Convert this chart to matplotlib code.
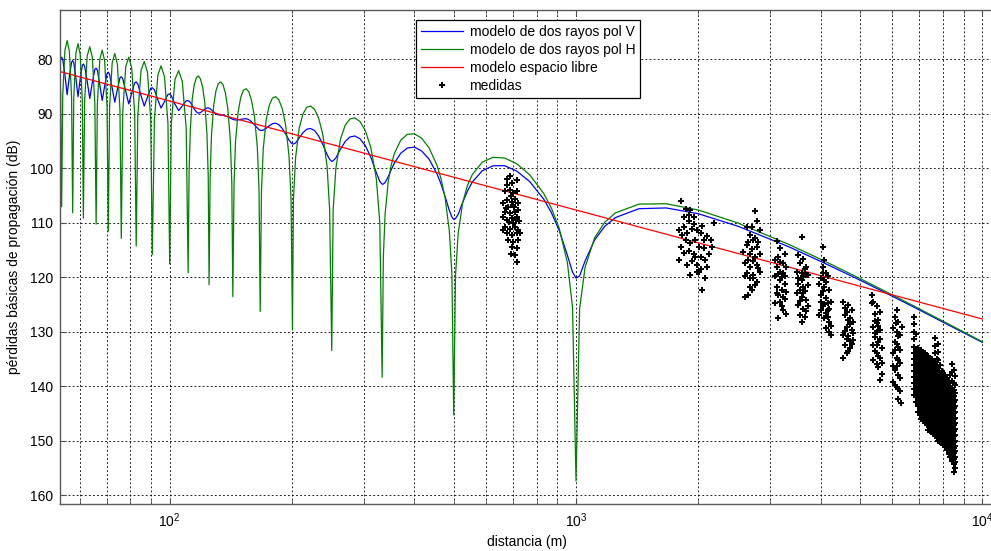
import numpy as np
import matplotlib
matplotlib.use('Agg')
from matplotlib import pyplot as plt
from matplotlib.ticker import FixedLocator, NullFormatter

plt.rcParams['font.family'] = ['Liberation Sans', 'DejaVu Sans']
plt.rcParams['mathtext.default'] = 'regular'
plt.rcParams['font.size'] = 10

# %% model curves: distance (m), loss pol V, loss pol H (dB)
dist = [53.7, 53.89, 54.2, 54.54, 55.23, 55.92, 56.63, 57.34, 57.7,
        58.05, 58.76, 59.47, 60.20, 60.93, 61.3,
        61.75, 62.65, 63.56, 64.49, 65.42, 65.9,
        66.36, 67.28, 68.21, 69.16, 70.11, 70.6,
        71.12, 72.18, 73.25, 74.34, 75.44, 76.0,
        76.65, 77.95, 79.28, 80.63, 82.00, 82.7,
        83.46, 84.99, 86.56, 88.15, 89.78, 90.6,
        91.7, 93.5, 95.2, 97.1, 99.0, 100.0,
        100.9, 103.0, 105.2, 107.4, 109.8, 111.0,
        111.6, 112.4, 113.6, 114.9, 116.3, 117.6, 119.0, 120.5, 122.0, 123.5, 124.4, 125.0,
        125.75, 126.71, 128.33, 130.0, 131.71, 133.47, 135.27, 137.12, 139.03, 140.99, 142.19, 143.0,
        144.0, 145.2, 147.4, 149.6, 151.8, 154.2, 156.6, 158.9, 161.6, 164.3, 165.9, 167.0,
        168.2, 169.9, 172.8, 175.9, 179.0, 182.3, 185.6, 189.2, 192.8, 196.6, 198.9, 200.5,
        201.6, 204.1, 208.3, 212.8, 217.4, 222.2, 227.3, 232.6, 238.1, 243.9, 247.5, 250.5,
        252.5, 256.4, 263.2, 270.3, 277.8, 285.7, 294.1, 303.0, 312.5, 322.6, 328.9, 333.3,
        335.6, 339.0, 344.8, 350.9, 357.1, 370.4, 384.6, 400.0, 416.7, 434.8, 454.5, 465.1,
        476.2, 487.8, 495.0, 500.0,
        505.1, 512.8, 526.3, 540.5, 555.6, 588.2, 625.0, 666.7, 714.3, 769.2, 833.3, 869.6,
        909.1, 952.4, 980.4, 1000.0,
        1020.4, 1052.6, 1111.1, 1176.5, 1250.0, 1428.6, 1666.7, 2000.0, 2500.0, 3333.3,
        4000.0, 5000.0, 5714.0, 6666.7, 8333.0, 10000.0]

loss_v = [80.43, 79.93, 79.65, 80.05, 82.96, 86.55, 83.18, 80.55, 80.28,
          80.69, 83.51, 86.91, 83.72, 81.17, 80.91,
          81.31, 84.07, 87.24, 84.32, 81.90, 81.67,
          82.04, 84.70, 87.60, 84.94, 82.65, 82.40,
          82.80, 85.30, 87.91, 85.56, 83.43, 83.24,
          83.63, 85.96, 88.24, 86.25, 84.35, 84.18,
          84.56, 86.70, 88.61, 87.00, 85.38, 85.26,
          85.64, 87.49, 88.99, 87.78, 86.49, 86.41,
          86.73, 88.28, 89.45, 88.60, 87.65, 87.63,
          87.73, 87.96, 88.49, 89.14, 89.69, 89.93, 89.83, 89.52, 89.19, 88.98, 88.97, 89.01,
          89.12, 89.34, 89.73, 90.06, 90.23, 90.30, 90.32, 90.44, 90.60, 90.82, 90.97, 91.07,
          91.12, 91.19, 91.17, 91.07, 90.98, 90.95, 91.12, 91.50, 92.07, 92.65, 92.94, 93.07,
          93.10, 93.05, 92.70, 92.24, 91.86, 91.78, 92.05, 92.73, 93.74, 94.87, 95.37, 95.57,
          95.59, 95.39, 94.46, 93.51, 92.88, 92.74, 93.13, 94.12, 95.67, 97.52, 98.39, 98.78,
          98.67, 98.14, 96.55, 95.14, 94.29, 94.12, 94.65, 95.89, 98.00, 100.87, 102.44, 102.97,
          102.93, 102.65, 101.62, 100.32, 99.09, 97.28, 96.32, 96.16, 96.85, 98.36, 101.02, 102.89,
          105.20, 107.79, 109.01, 109.42,
          109.28, 108.50, 106.27, 104.20, 102.57, 100.48, 99.58, 99.57, 100.54, 102.49, 105.74, 108.17,
          111.44, 116.01, 119.08, 120.20,
          119.80, 117.07, 113.20, 110.70, 109.09, 107.46, 107.32, 108.38, 110.66, 114.42,
          117.12, 120.57, 122.71, 125.23, 128.95, 131.99]

loss_h = [82.63, 86.51, 107.1, 86.61, 78.36, 76.63, 78.58, 87.05, 108.2,
          87.16, 78.90, 77.17, 79.11, 87.58, 109.2,
          87.69, 79.46, 77.74, 79.71, 88.19, 110.3,
          88.32, 80.08, 78.36, 80.32, 88.80, 111.6,
          88.92, 80.69, 78.98, 80.95, 89.43, 112.9,
          89.57, 81.36, 79.66, 81.65, 90.16, 114.3,
          90.31, 82.11, 80.43, 82.43, 90.94, 115.9,
          91.13, 82.94, 81.25, 83.26, 91.79, 117.6,
          91.96, 83.78, 82.12, 84.14, 92.69, 119.2,
          100.65, 92.90, 87.40, 84.73, 83.42, 83.09, 83.62, 85.14, 88.02, 93.71, 101.60, 121.4,
          101.69, 93.94, 88.45, 85.80, 84.50, 84.19, 84.73, 86.26, 89.15, 94.86, 102.76, 123.6,
          102.86, 95.12, 89.66, 87.01, 85.74, 85.44, 86.01, 87.54, 90.46, 96.19, 104.10, 126.3,
          104.22, 96.48, 91.04, 88.43, 87.16, 86.90, 87.48, 89.06, 91.99, 97.75, 105.67, 129.7,
          105.79, 98.08, 92.66, 90.08, 88.86, 88.62, 89.24, 90.85, 93.83, 99.62, 107.57, 133.5,
          107.74, 100.06, 94.70, 92.16, 90.98, 90.80, 91.48, 93.15, 96.19, 102.05, 110.04, 138.4,
          116.22, 108.39, 102.63, 99.44, 97.35, 94.89, 93.81, 93.72, 94.51, 96.29, 99.44, 101.89,
          105.44, 111.56, 119.59, 145.3,
          119.77, 111.99, 106.30, 103.20, 101.19, 98.91, 98.03, 98.16, 99.19, 101.24, 104.71, 107.33,
          111.05, 117.37, 125.53, 157.4,
          125.90, 118.24, 112.80, 109.95, 108.23, 106.62, 106.55, 107.70, 110.07, 113.98,
          116.73, 120.27, 122.46, 125.02, 128.78, 131.88]

fs_dist = [53.7, 10000.0]
fs_loss = [82.3, 127.7]

# %% measurements (d, loss) grouped by the runs visible on the plot
run_a = [(677, 102.0), (688, 101.4), (714, 102.2), (694, 102.8), (675, 103.1), (668, 104.3),
         (688, 104.0), (701, 104.6), (716, 104.3), (675, 105.9), (694, 106.2), (707, 105.7),
         (662, 106.5), (681, 107.1), (701, 106.8), (721, 106.5), (668, 108.0), (688, 108.3),
         (707, 108.0), (721, 107.7), (662, 108.9), (677, 109.5), (697, 109.2), (714, 108.9),
         (724, 109.8), (668, 110.8), (688, 111.1), (707, 110.8), (721, 111.4), (675, 112.0),
         (694, 112.3), (714, 112.0), (681, 113.2), (701, 113.5), (721, 113.2), (694, 114.4),
         (714, 114.7), (707, 116.0), (716, 117.2), (662, 111.4), (728, 112.0), (690, 115.7),
         (684, 109.9), (699, 110.0), (710, 109.6), (672, 107.4), (705, 107.2), (692, 105.1)]
run_b = [(1808, 106.0), (1860, 107.6), (1913, 107.7), (1950, 108.9), (1895, 109.8), (1842, 110.8),
         (1791, 111.4), (1825, 112.3), (1877, 111.9), (1931, 111.2), (1987, 111.4), (2025, 112.0),
         (1968, 113.2), (1913, 113.8), (1860, 113.2), (1808, 114.4), (1791, 116.9), (1842, 115.5),
         (1895, 115.2), (1950, 115.7), (2006, 114.4), (2064, 114.7), (2025, 116.3), (2083, 116.9),
         (2123, 115.7), (2143, 113.2), (2163, 114.4), (2184, 110.0), (2064, 113.2), (2103, 118.1),
         (2025, 118.6), (1987, 119.0), (2006, 119.0), (2044, 122.4), (1931, 117.0), (1877, 117.8),
         (1968, 116.4), (2103, 112.4), (2044, 110.6), (1950, 110.2), (1842, 109.0), (1895, 108.6),
         (1987, 117.8), (2083, 120.2), (1913, 119.6)]
run_c = [(2756, 107.9), (2782, 109.8), (2630, 110.8), (2835, 111.4), (2680, 112.3), (2730, 113.2),
         (2630, 114.1), (2782, 114.4), (2581, 115.4), (2680, 115.7), (2756, 116.3), (2835, 115.7),
         (2605, 117.5), (2680, 118.1), (2782, 117.8), (2630, 119.3), (2730, 119.6), (2835, 119.0),
         (2680, 120.2), (2730, 120.2), (2782, 120.9), (2680, 121.8), (2605, 123.6), (2655, 123.3),
         (2756, 112.8), (2705, 114.9), (2808, 113.6), (2655, 116.8), (2730, 117.1), (2605, 119.9),
         (2705, 122.3), (2808, 118.4), (2655, 113.5), (2756, 121.5), (2705, 110.9)]
run_d = [(3117, 113.3), (3175, 114.7), (3265, 115.7), (3146, 116.3), (3088, 116.9), (3235, 117.5),
         (3295, 118.1), (3117, 118.1), (3175, 119.0), (3265, 119.9), (3088, 119.9), (3175, 120.6),
         (3265, 121.2), (3117, 121.8), (3205, 122.4), (3295, 122.7), (3146, 123.3), (3235, 123.6),
         (3088, 124.8), (3175, 124.5), (3235, 126.1), (3146, 127.6), (3295, 126.7), (3205, 120.0),
         (3146, 119.5), (3235, 119.2), (3117, 122.9), (3205, 125.3), (3265, 124.0), (3175, 117.2)]
run_e = [(3591, 112.6), (3525, 116.0), (3624, 116.6), (3558, 117.5), (3692, 118.1), (3492, 119.0),
         (3591, 119.3), (3726, 119.6), (3525, 120.2), (3624, 119.9), (3692, 119.6), (3525, 121.2),
         (3624, 121.8), (3726, 121.5), (3492, 123.0), (3591, 123.6), (3692, 124.2), (3525, 125.1),
         (3624, 125.8), (3726, 125.4), (3558, 127.0), (3658, 127.3), (3591, 128.2), (3658, 122.5),
         (3558, 122.3), (3591, 120.6), (3658, 118.6), (3692, 126.2), (3558, 124.4), (3624, 123.0)]
run_f = [(4048, 114.4), (4087, 116.9), (4048, 118.1), (4125, 119.3), (4010, 120.2), (4048, 119.3),
         (4164, 119.9), (3972, 121.2), (4087, 121.8), (4203, 122.4), (4010, 123.3), (4125, 123.9),
         (4243, 124.5), (4048, 125.4), (4164, 126.1), (3972, 127.0), (4087, 127.6), (4203, 128.2),
         (4125, 129.4), (4243, 130.6), (4203, 130.0), (4010, 124.6), (4125, 121.0), (4164, 124.8),
         (4087, 125.0), (4048, 122.5), (4164, 127.4), (4010, 126.0), (4125, 126.6), (4087, 120.5),
         (4203, 125.8), (4243, 129.0)]
run_g = [(4552, 124.5), (4682, 125.1), (4771, 126.1), (4595, 127.0), (4727, 127.6), (4817, 128.2),
         (4638, 129.1), (4771, 129.7), (4552, 130.6), (4682, 130.9), (4817, 131.6), (4595, 132.5),
         (4727, 133.1), (4638, 134.0), (4552, 134.8), (4682, 127.9), (4638, 126.4), (4727, 131.8),
         (4595, 129.9), (4771, 132.2), (4682, 133.5), (4817, 130.2), (4638, 131.3), (4727, 128.7),
         (4595, 125.6)]
run_h = [(5340, 123.3), (5391, 124.5), (5494, 125.4), (5442, 126.7), (5546, 127.9), (5391, 129.1),
         (5599, 129.7), (5442, 131.0), (5546, 131.9), (5652, 133.1), (5494, 134.0), (5599, 134.9),
         (5391, 135.2), (5546, 136.5), (5652, 137.7), (5599, 138.9), (5340, 124.8), (5599, 126.4),
         (5494, 128.5), (5442, 130.3), (5494, 132.5), (5599, 131.3), (5442, 133.5), (5546, 134.4),
         (5494, 136.0), (5494, 130.0), (5546, 129.0), (5652, 135.8), (5442, 128.0), (5391, 132.5)]
run_i = [(6156, 126.1), (6098, 127.3), (6214, 128.2), (6041, 129.4), (6156, 130.0), (6273, 130.6),
         (6098, 131.9), (6214, 132.8), (6041, 134.0), (6156, 134.9), (6273, 135.8), (6098, 137.1),
         (6214, 138.0), (6041, 139.2), (6156, 140.1), (6273, 141.0), (6214, 142.3), (6300, 143.1),
         (6333, 129.1), (6130, 128.5), (6214, 130.9), (6098, 133.4), (6156, 136.3), (6214, 135.2),
         (6098, 139.8), (6273, 138.6), (6156, 132.2), (6214, 140.6), (6041, 136.4), (6273, 133.3)]
# last, dense run: one list of losses per distance
run_j = [
    (6790, [127.3, 128.6, 130.0, 131.4, 132.9, 134.0, 135.1, 136.2, 137.3, 138.4, 139.5, 140.6, 141.6]),
    (6865, [130.5, 133.5, 134.6, 135.7, 136.7, 137.8, 138.8, 139.9, 140.9, 142.0, 143.0]),
    (6940, [133.0, 134.1, 135.1, 136.2, 137.2, 138.3, 139.3, 140.4, 141.4, 142.5, 143.6, 144.7]),
    (7010, [133.7, 134.8, 135.8, 136.9, 137.9, 139.0, 140.0, 141.1, 142.1, 143.2, 144.3, 145.3]),
    (7080, [133.4, 134.5, 135.5, 136.6, 137.6, 138.7, 139.7, 140.8, 141.8, 142.9, 143.9, 145.0, 146.0]),
    (7155, [133.9, 135.0, 136.0, 137.1, 138.1, 139.2, 140.2, 141.3, 142.3, 143.4, 144.4, 145.5, 146.4]),
    (7230, [134.0, 135.0, 136.1, 137.1, 138.2, 139.2, 140.3, 141.3, 142.4, 143.4, 144.5, 145.5, 146.8]),
    (7300, [134.5, 135.6, 136.6, 137.7, 138.7, 139.8, 140.8, 141.9, 142.9, 144.0, 145.0, 146.1, 147.2]),
    (7370, [134.4, 135.5, 136.5, 137.6, 138.6, 139.7, 140.7, 141.8, 142.8, 143.9, 144.9, 146.0, 147.0, 148.0]),
    (7440, [134.9, 136.0, 137.0, 138.1, 139.1, 140.2, 141.2, 142.3, 143.3, 144.4, 145.4, 146.5, 147.5, 148.3]),
    (7510, [135.0, 136.0, 137.1, 138.1, 139.2, 140.2, 141.3, 142.3, 143.4, 144.4, 145.5, 146.5, 147.5, 148.5]),
    (7580, [135.5, 136.5, 137.6, 138.6, 139.7, 140.7, 141.8, 142.8, 143.9, 144.9, 146.0, 147.0, 148.0, 148.8]),
    (7650, [131.2, 132.6, 134.0, 135.5, 136.6, 137.6, 138.7, 139.7, 140.8, 141.8, 142.9, 143.9, 145.0,
            146.0, 147.0, 148.0, 149.0]),
    (7725, [135.0, 136.1, 137.1, 138.2, 139.2, 140.3, 141.3, 142.4, 143.4, 144.5, 145.5, 146.6, 147.6,
            148.6, 149.5]),
    (7800, [132.3, 133.8, 135.2, 136.6, 137.7, 138.7, 139.8, 140.8, 141.9, 142.9, 144.0, 145.0, 146.1,
            147.1, 148.1, 149.1, 150.0]),
    (7875, [136.2, 137.7, 138.8, 139.8, 140.9, 141.9, 143.0, 144.0, 145.1, 146.1, 147.2, 148.2, 149.2, 150.2]),
    (7950, [137.2, 138.3, 139.3, 140.4, 141.4, 142.5, 143.5, 144.6, 145.6, 146.7, 147.7, 148.7, 149.6, 150.5]),
    (8025, [137.7, 138.8, 139.8, 140.9, 141.9, 143.0, 144.0, 145.1, 146.1, 147.2, 148.2, 149.1, 150.0, 150.9]),
    (8100, [138.0, 139.0, 140.1, 141.1, 142.2, 143.2, 144.3, 145.3, 146.4, 147.4, 148.5, 149.5, 150.4, 151.2]),
    (8180, [138.5, 139.5, 140.6, 141.6, 142.7, 143.7, 144.8, 145.8, 146.9, 147.9, 149.0, 150.0, 150.9, 151.8]),
    (8260, [139.0, 140.0, 141.1, 142.1, 143.2, 144.2, 145.3, 146.3, 147.4, 148.4, 149.5, 150.5, 151.5, 152.4]),
    (8340, [138.0, 139.5, 140.6, 141.6, 142.7, 143.7, 144.8, 145.8, 146.9, 147.9, 149.0, 150.0, 151.0,
            152.0, 153.0]),
    (8420, [136.0, 137.5, 139.0, 140.3, 141.4, 142.4, 143.5, 144.5, 145.6, 146.6, 147.7, 148.7, 149.8,
            150.8, 151.8, 152.8, 153.8]),
    (8500, [137.0, 139.5, 140.8, 141.9, 142.9, 144.0, 145.0, 146.1, 147.1, 148.2, 149.2, 150.3, 151.3,
            152.3, 153.3, 154.3]),
    (8580, [138.2, 139.8, 141.3, 142.6, 143.7, 144.7, 145.8, 146.8, 147.9, 148.9, 150.0, 151.0, 152.0,
            153.0, 154.0, 155.0]),
    (8530, [155.8]),
]

meas = run_a + run_b + run_c + run_d + run_e + run_f + run_g + run_h + run_i
meas += [(d, l) for d, col in run_j for l in col]
meas_d = [p[0] for p in meas]
meas_l = [p[1] for p in meas]

# %%
fig = plt.figure(figsize=(9.91, 5.51), dpi=100)
ax = fig.add_axes([60/991, 46.7/551, 934.5/991, 494.3/551])

ax.semilogx(dist, loss_v, color='#0000ff', lw=0.9, label='modelo de dos rayos pol V')
ax.semilogx(dist, loss_h, color='#008000', lw=0.9, label='modelo de dos rayos pol H')
ax.semilogx(fs_dist, fs_loss, color='#ff0000', lw=0.9, label='modelo espacio libre')
ax.semilogx(meas_d, meas_l, ls='none', marker='P', ms=4.4, mew=0, color='k', label='medidas')

ax.set_xlim(53.7, 10**4.03)
ax.set_ylim(161.7, 71)
ax.set_yticks(range(80, 161, 10))

ax.xaxis.set_major_locator(FixedLocator([1e2, 1e3, 1e4]))
ax.xaxis.set_minor_locator(FixedLocator([60, 70, 80, 90] + [k*100 for k in range(2, 10)] +
                                        [k*1000 for k in range(2, 10)]))
ax.xaxis.set_minor_formatter(NullFormatter())
ax.set_xticklabels(['$10^{2}$', '$10^{3}$', '$10^{4}$'])

gs = dict(color='0.05', ls=(0, (2, 2.5)), lw=0.65)
ax.grid(True, which='major', axis='both', **gs)
ax.grid(True, which='minor', axis='x', **gs)

ax.tick_params(which='both', direction='in', top=True, right=False, color='0.3')
ax.tick_params(which='major', length=4.5, labelsize=10, pad=5)
ax.tick_params(which='minor', length=3)
for s in ax.spines.values():
    s.set_color('0.35')
    s.set_linewidth(1.0)

ax.set_xlabel('distancia (m)', fontsize=10, labelpad=4)
ax.set_ylabel('pérdidas básicas de propagación (dB)', fontsize=10, labelpad=6)

leg = ax.legend(loc='upper left', bbox_to_anchor=(0.381, 0.98), borderaxespad=0,
                fancybox=False, framealpha=1, edgecolor='k', handlelength=3.0,
                labelspacing=0.3, borderpad=0.35, handletextpad=0.5, fontsize=10)
leg.get_frame().set_linewidth(0.9)

fig.savefig('out.png', dpi=100)
